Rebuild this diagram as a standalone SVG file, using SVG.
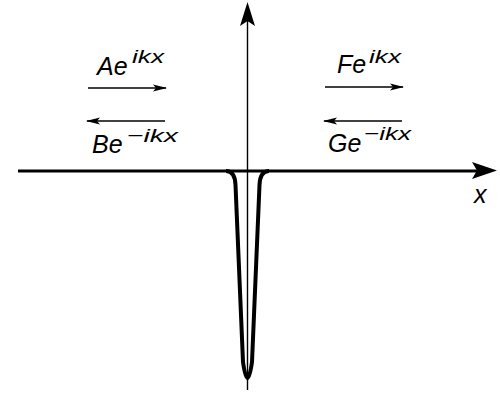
<svg xmlns="http://www.w3.org/2000/svg" width="500" height="397" viewBox="0 0 500 397">
<style>
.lbl{font-family:"Liberation Sans",Arial,sans-serif;font-style:italic;fill:#000}
.big{font-size:25px}
.sup{font-size:19px}
.arr{stroke:#000;stroke-width:1.6;fill:none}
</style>
<defs>
<marker id="ah" markerWidth="14" markerHeight="8" refX="13" refY="4" orient="auto" markerUnits="userSpaceOnUse">
<path d="M0,0.5 L14,4 L0,7.5 L3,4 Z" fill="#000"/>
</marker>
</defs>
<rect width="500" height="397" fill="#fff"/>
<g id="axes">
<line x1="247.5" y1="20" x2="247.5" y2="390" stroke="#000" stroke-width="1.4"/>
<path d="M247.5,2 L255,26 L247.5,21 L240,26 Z" fill="#000"/>
<line x1="18" y1="171" x2="478" y2="171" stroke="#000" stroke-width="3.2"/>
<path d="M497,170.5 L472,162 L477,170.5 L472,179 Z" fill="#000"/>
<line x1="232" y1="171" x2="264" y2="171" stroke="#000" stroke-width="1"/>
</g>
<g id="well">
<path d="M226,171 Q235,171 235.5,185 L243,362 Q247.5,394 252,362 L259.5,185 Q260,171 269,171" fill="none" stroke="#000" stroke-width="4"/>
</g>
<g id="connectors">
<line class="arr" x1="88" y1="88" x2="166" y2="88" marker-end="url(#ah)"/>
<line class="arr" x1="165" y1="121" x2="87" y2="121" marker-end="url(#ah)"/>
<line class="arr" x1="325" y1="87" x2="403" y2="87" marker-end="url(#ah)"/>
<line class="arr" x1="402" y1="121" x2="324" y2="121" marker-end="url(#ah)"/>
</g>
<g id="labels">
<text class="lbl big" x="97" y="75">Ae</text>
<text class="lbl sup" x="132" y="63" textLength="32" lengthAdjust="spacingAndGlyphs">ikx</text>
<text class="lbl big" x="92" y="153">Be</text>
<text class="lbl sup" x="127" y="142" textLength="51" lengthAdjust="spacingAndGlyphs">−ikx</text>
<text class="lbl big" x="337" y="73">Fe</text>
<text class="lbl sup" x="369" y="63" textLength="32" lengthAdjust="spacingAndGlyphs">ikx</text>
<text class="lbl big" x="328" y="152">Ge</text>
<text class="lbl sup" x="364" y="140" textLength="47" lengthAdjust="spacingAndGlyphs">−ikx</text>
<text class="lbl big" x="474" y="203">x</text>
</g>
</svg>
